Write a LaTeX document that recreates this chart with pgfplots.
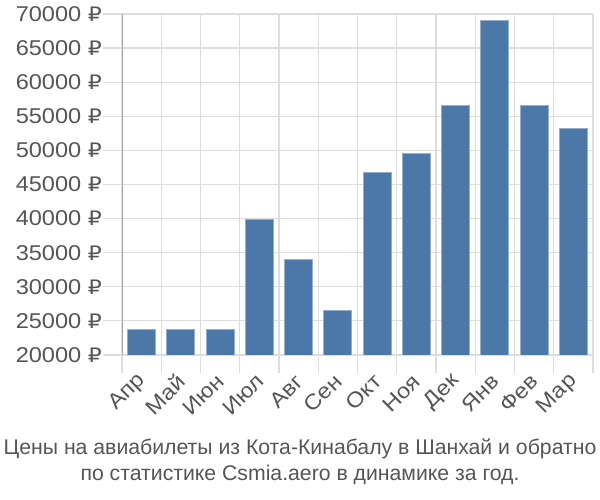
\documentclass[border=0pt]{standalone}
\usepackage{fontspec}
\setmainfont{Liberation Sans}
\newfontfamily\tickfont[FakeStretch=1.1]{Liberation Sans}
\newfontfamily\rubfont[FakeStretch=1.1]{DejaVu Sans}
\usepackage{pgfplots}
\pgfplotsset{compat=1.18}
\definecolor{barc}{HTML}{4C78A8}
\definecolor{txt}{HTML}{555555}
\definecolor{grd}{HTML}{DDDDDD}
\begin{document}
\begin{tikzpicture}[x=1bp,y=1bp]
\path[use as bounding box] (0,0) rectangle (600,500);
\begin{axis}[
 at={(122bp,145bp)}, anchor=south west,
 scale only axis, width=471bp, height=341bp,
 xmin=-0.5, xmax=11.5, ymin=20000, ymax=70000,
 ytick={20000,25000,...,70000},
 scaled y ticks=false,
 xtick={0,...,11},
 xticklabels={Апр,Май,Июн,Июл,Авг,Сен,Окт,Ноя,Дек,Янв,Фев,Мар},
 minor xtick={-0.5,0.5,...,11.5},
 axis x line*=bottom, axis y line*=left,
 x axis line style={color=grd},
 y axis line style={color=black!35},
 tick align=outside,
 major tick length=19bp, minor tick length=18bp,
 major x tick style={draw=none},
 minor x tick style={color=grd, line width=1.2bp},
 major y tick style={color=grd, line width=1.2bp},
 ymajorgrids, xminorgrids,
 grid style={color=grd, line width=1.2bp},
 minor grid style={color=grd, line width=1.2bp},
 yticklabel={\pgfmathprintnumber[assume math mode=true,fixed,precision=0,1000 sep={}]{\tick}\ {\rubfont\fontsize{20}{24}\selectfont ₽}},
 yticklabel style={text=txt, font=\tickfont\fontsize{21.5}{24}\selectfont, inner sep=1bp},
 xticklabel style={rotate=45, anchor=east, text=txt, font=\tickfont\fontsize{21.5}{24}\selectfont, yshift=-3bp, xshift=1bp},
 clip=true,
]
\addplot[ybar, bar width=28bp, fill=barc, draw=barc!60!white, line width=0.8bp]
 coordinates {(0,23700) (1,23700) (2,23700) (3,39850) (4,34000) (5,26500) (6,46700) (7,49600) (8,56650) (9,69000) (10,56650) (11,53200)};
\end{axis}
\node[align=center, text=txt, font=\fontsize{21.3}{26}\selectfont] at (300,38) {Цены на авиабилеты из Кота-Кинабалу в Шанхай и обратно\\по статистике Csmia.aero в динамике за год.};
\end{tikzpicture}
\end{document}
